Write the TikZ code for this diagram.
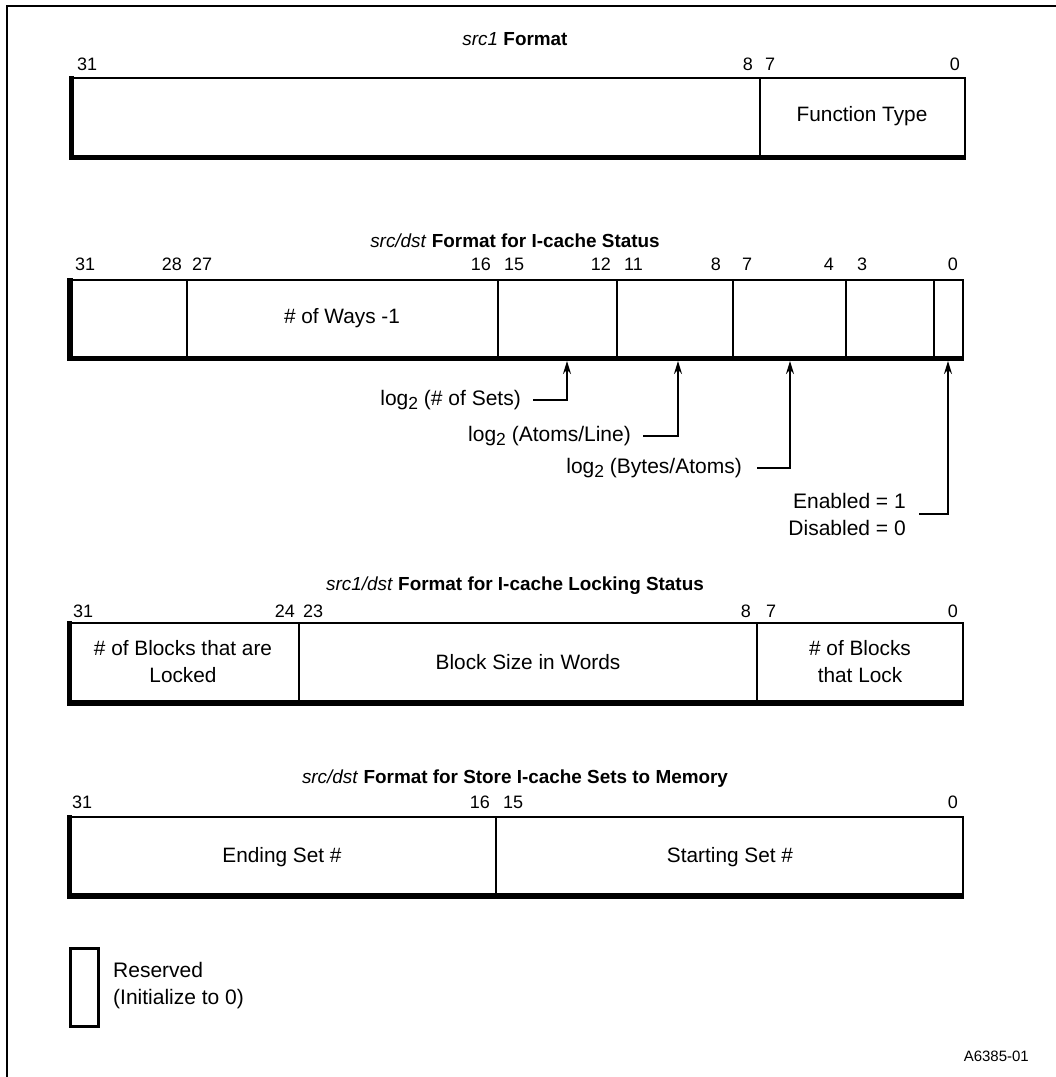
\documentclass[tikz,border=0pt]{standalone}
\usepackage{fontspec}
\setmainfont{Liberation Sans}
\usetikzlibrary{arrows.meta}

\newcommand\logtwo{log\raisebox{-4pt}{\fontsize{17.5}{17.5}\selectfont 2}}

\tikzset{
  field/.style={line width=2pt},
  heavy/.style={line width=5.5pt},
  frame/.style={line width=1.3pt},
  bitnum/.style={font=\fontsize{18}{20}\selectfont, inner sep=0pt},
  cell/.style={font=\fontsize{20.8}{27}\selectfont, align=center, inner sep=0pt},
  note/.style={font=\fontsize{21}{27}\selectfont, inner sep=0pt},
  heading/.style={font=\fontsize{18.9}{22}\selectfont, inner sep=0pt, anchor=base},
  pointer/.style={line width=1.8pt, -{Stealth[length=13pt,width=8pt]}},
}

\begin{document}
\begin{tikzpicture}[x=1pt,y=-1pt]
\useasboundingbox (0,0) rectangle (1056,1077);

% page frame
\draw[frame] (7,1077) -- (7,6) -- (1056,6);

% ---------------- src1 format ----------------
\node[heading] (t1) at (515,45) {\textit{src1} \textbf{Format}};
\draw[field] (71.5,78) rectangle (965,157.5);
\draw[heavy] (71.5,76) |- (966,157.5);
\draw[field] (760,78) -- (760,157.5);
\node[bitnum, anchor=base west] (a31) at (77,70) {31};
\node[bitnum, anchor=base east] (a8) at (753,70) {8};
\node[bitnum, anchor=base west] (a7) at (765,70) {7};
\node[bitnum, anchor=base east] (a0) at (960,70) {0};
\node[cell] (ftype) at (862,116) {Function Type};

% ---------------- I-cache status ----------------
\node[heading] (t2) at (515,247) {\textit{src/dst} \textbf{Format for I-cache Status}};
\draw[field] (70,280) rectangle (963,358.5);
\draw[heavy] (70,278) |- (964,358.5);
\foreach \d in {187,498,617,733,846,934}
  \draw[field] (\d,280) -- (\d,358.5);
\node[bitnum, anchor=base west] (b31) at (75,270) {31};
\node[bitnum, anchor=base east] (b28) at (182,270) {28};
\node[bitnum, anchor=base west] (b27) at (192,270) {27};
\node[bitnum, anchor=base east] (b16) at (491,270) {16};
\node[bitnum, anchor=base west] (b15) at (504,270) {15};
\node[bitnum, anchor=base east] (b12) at (611,270) {12};
\node[bitnum, anchor=base west] (b11) at (624,270) {11};
\node[bitnum, anchor=base east] (b8) at (721,270) {8};
\node[bitnum, anchor=base west] (b7) at (742,270) {7};
\node[bitnum, anchor=base east] (b4) at (834,270) {4};
\node[bitnum, anchor=base west] (b3) at (857,270) {3};
\node[bitnum, anchor=base east] (b0) at (958,270) {0};
\node[cell] (ways) at (342,318) {\# of Ways -1};

\coordinate (p1) at (567,361);
\coordinate (p2) at (678,361);
\coordinate (p3) at (790,361);
\coordinate (p4) at (948,361);
\node[note, anchor=east] (sets) at (521,400) {\logtwo{} (\# of Sets)};
\node[note, anchor=east] (atoms) at (631,436) {\logtwo{} (Atoms/Line)};
\node[note, anchor=east] (bytes) at (742,468) {\logtwo{} (Bytes/Atoms)};
\node[note, anchor=east, align=right] (enab) at (906,514) {Enabled = 1\\Disabled = 0};
\draw[pointer] ([xshift=12pt]sets.east) -| (p1);
\draw[pointer] ([xshift=12pt]atoms.east) -| (p2);
\draw[pointer] ([xshift=15pt]bytes.east) -| (p3);
\draw[pointer] ([xshift=13pt]enab.east) -| (p4);

% ---------------- I-cache locking status ----------------
\node[heading] (t3) at (515,590) {\textit{src1/dst} \textbf{Format for I-cache Locking Status}};
\draw[field] (69.5,623) rectangle (963,703);
\draw[heavy] (69.5,621) |- (964,703);
\draw[field] (299,623) -- (299,703);
\draw[field] (757,623) -- (757,703);
\node[bitnum, anchor=base west] (c31) at (73,617) {31};
\node[bitnum, anchor=base east] (c24) at (295,617) {24};
\node[bitnum, anchor=base west] (c23) at (303,617) {23};
\node[bitnum, anchor=base east] (c8) at (751,617) {8};
\node[bitnum, anchor=base west] (c7) at (766,617) {7};
\node[bitnum, anchor=base east] (c0) at (958,617) {0};
\node[cell] (locked) at (183,662) {\# of Blocks that are\\Locked};
\node[cell] (bsize) at (528,662) {Block Size in Words};
\node[cell] (lock) at (860,662) {\# of Blocks\\that Lock};

% ---------------- store I-cache sets ----------------
\node[heading] (t4) at (515,783) {\textit{src/dst} \textbf{Format for Store I-cache Sets to Memory}};
\draw[field] (69.5,817) rectangle (963,896);
\draw[heavy] (69.5,815) |- (964,896);
\draw[field] (496,817) -- (496,896);
\node[bitnum, anchor=base west] (d31) at (72,808) {31};
\node[bitnum, anchor=base east] (d16) at (490,808) {16};
\node[bitnum, anchor=base west] (d15) at (503,808) {15};
\node[bitnum, anchor=base east] (d0) at (958,808) {0};
\node[cell] (endset) at (282,857) {Ending Set \#};
\node[cell] (startset) at (730,857) {Starting Set \#};

% ---------------- legend ----------------
\draw[line width=3pt] (70,948.5) rectangle (98.5,1026.5);
\node[note, anchor=west, align=left] (resv) at (113,986) {Reserved\\(Initialize to 0)};

\node[font=\fontsize{15}{17}\selectfont, inner sep=0pt, anchor=east] (fig) at (1029,1056) {A6385-01};
\end{tikzpicture}
\end{document}
